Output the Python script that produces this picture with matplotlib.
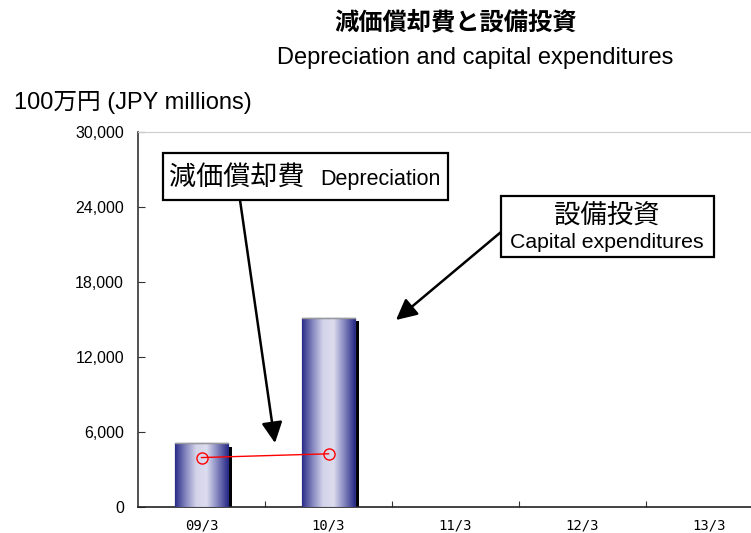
import numpy as np
import matplotlib
matplotlib.use('Agg')
import matplotlib.pyplot as plt
from matplotlib.colors import LinearSegmentedColormap
from matplotlib.patches import Rectangle
import matplotlib.patheffects as pe

plt.rcParams['font.family'] = ['Liberation Sans', 'Noto Sans CJK JP']

# data
periods = ['09/3', '10/3', '11/3', '12/3', '13/3']
capex = [5100, 15100]          # 設備投資, bars
depreciation = [3950, 4250]    # 減価償却費, line
yticks = [0, 6000, 12000, 18000, 24000, 30000]

W, H = 751, 533
fx = lambda px: px / W
fy = lambda py: 1 - py / H

fig = plt.figure(figsize=(W / 100, H / 100), dpi=100)
ax = fig.add_axes([fx(138), fy(507), (773 - 138) / W, (507 - 131.5) / H])

grad = LinearSegmentedColormap.from_list(
    'bar', ['#2b2e88', '#8486bf', '#d4d4ea', '#dcdcee', '#8486bf', '#2b2e88'])
gimg = np.linspace(0, 1, 256).reshape(1, -1)

xs = np.arange(len(capex))
bw = 0.41
bars = ax.bar(xs, capex, width=bw, color='#2b2e88', edgecolor='#2b2e88',
              lw=0.8, zorder=2)
for b in bars:
    b.set_path_effects([pe.SimplePatchShadow(offset=(3, -2.5), shadow_rgbFace='k',
                                             alpha=1.0), pe.Normal()])
    x0, y0 = b.get_x(), b.get_y()
    im = ax.imshow(gimg, cmap=grad, aspect='auto', zorder=3,
                   extent=[x0, x0 + b.get_width(), y0, y0 + b.get_height()])
    im.set_clip_path(b)
# thin outline on top
ax.bar(xs, capex, width=bw, facecolor='none', edgecolor='#2b2e88', lw=0.8, zorder=4)
for x, v in zip(xs, capex):
    ax.plot([x - bw / 2, x + bw / 2], [v, v], color='#9a9a9a', lw=1, zorder=4)

ax.plot(np.arange(len(depreciation)), depreciation, color='#ff0000', lw=1,
        marker='o', ms=8, mfc='none', mec='#ff0000', mew=1, zorder=5)

ax.set_xlim(-0.5, len(periods) - 0.5)
ax.set_ylim(0, 30000)
ax.set_yticks(yticks)
ax.set_yticklabels([f'{v:,}' for v in yticks], fontsize=11.5)
ax.set_xticks(np.arange(len(periods)) + 0.5)
ax.set_xticklabels([])
ax.set_xticks(np.arange(len(periods)), minor=True)
ax.set_xticklabels(periods, minor=True, family='DejaVu Sans Mono', fontsize=10)
ax.tick_params(axis='x', which='minor', length=0, pad=8)
ax.tick_params(axis='x', which='major', direction='in', length=4, color='#333333')
ax.tick_params(axis='y', direction='in', length=5, pad=10, color='#333333')
ax.spines['right'].set_visible(False)
ax.spines['top'].set_color('#cccccc')
ax.spines['left'].set_color('#333333')
ax.spines['bottom'].set_color('#222222')
ax.spines['left'].set_linewidth(1.2)
ax.spines['bottom'].set_linewidth(1.2)

# titles
fig.text(fx(456), fy(22), '減価償却費と設備投資', ha='center', va='center',
         fontsize=17.5, fontweight='bold', family=['Noto Sans CJK JP'])
fig.text(fx(475), fy(58), 'Depreciation and capital expenditures',
         ha='center', va='center', fontsize=17)
fig.text(fx(14), fy(103), '100万円 (JPY millions)', ha='left', va='center',
         fontsize=17)

# callout boxes
fig.add_artist(Rectangle((fx(163), fy(200)), fx(448) - fx(163), fy(153) - fy(200),
                         transform=fig.transFigure, fill=True, fc='white',
                         ec='k', lw=1.6, zorder=6))
fig.text(fx(169), fy(177), '減価償却費', ha='left', va='center', fontsize=19.5,
         family=['Noto Sans CJK JP'], zorder=7)
fig.text(fx(320), fy(180), 'Depreciation', ha='left', va='center', fontsize=15.5,
         zorder=7)

fig.add_artist(Rectangle((fx(501), fy(257)), fx(714) - fx(501), fy(196) - fy(257),
                         transform=fig.transFigure, fill=True, fc='white',
                         ec='k', lw=1.6, zorder=6))
fig.text(fx(607), fy(215), '設備投資', ha='center', va='center', fontsize=19,
         family=['Noto Sans CJK JP'], zorder=7)
fig.text(fx(607), fy(243), 'Capital expenditures', ha='center', va='center',
         fontsize=15.3, zorder=7)

aprops = dict(arrowstyle='-|>,head_length=0.9,head_width=0.45', lw=1.8, color='k',
              mutation_scale=14, shrinkA=0, shrinkB=0)
ax.annotate('', xy=(fx(275), fy(443)), xycoords='figure fraction',
            xytext=(fx(240), fy(200)), textcoords='figure fraction',
            arrowprops=aprops, zorder=8)
ax.annotate('', xy=(fx(396), fy(320)), xycoords='figure fraction',
            xytext=(fx(501), fy(232)), textcoords='figure fraction',
            arrowprops=aprops, zorder=8)

fig.savefig('out.png', dpi=100)
